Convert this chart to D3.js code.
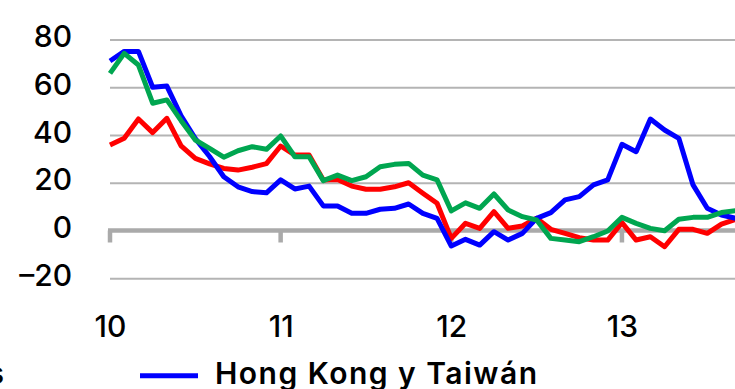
<!DOCTYPE html>
<html>
  <head>
    <meta charset="utf-8" />
    <script src="https://d3js.org/d3.v7.min.js"></script>
    <style>
      body { margin: 0; background: #fff; }
      svg text { font-family: Inter, "Open Sans", sans-serif; fill: #000; }
      .grid line { stroke: #b4b4b4; stroke-width: 2px; }
      .grid path { display: none; }
      .ylab text, .xlab text { font-size: 30px; font-weight: 500; }
      .ylab path, .xlab path { display: none; }
      .series { fill: none; stroke-width: 5px; stroke-linejoin: round; }
    </style>
  </head>
  <body>

    <svg id="chart" width="735" height="389"></svg>

    <script>

      var svg = d3.select("#chart");

      // monthly, starting January 2010
      var hongKongTaiwan = [71, 75, 75, 60, 60.5, 48, 38.5, 31, 22.5, 18.3, 16.3, 15.8,
        21.2, 17.4, 18.6, 10.3, 10.3, 7.2, 7.2, 8.9, 9.3, 11.1, 7.2, 5.1,
        -6.5, -3.7, -6.1, -0.5, -4, -1.2, 5.1, 7.5, 12.8, 14.2, 19.1, 21.2,
        36.1, 33, 46.7, 42.1, 38.6, 19.1, 9.3, 6.5, 5.1];
      var redSeries = [35.8, 38.6, 46.7, 41, 47, 35.4, 30.2, 27.9, 26, 25.3, 26.5, 28,
        35.4, 31.6, 31.6, 21.2, 21.4, 18.6, 17.3, 17.3, 18.3, 20, 15.6, 11.4,
        -3.3, 3, 0.9, 7.9, 0.9, 1.9, 5.1, 0.5, -1.2, -3, -4, -4,
        3.3, -4, -2.6, -6.8, 0.5, 0.5, -1.2, 2.7, 4.7];
      var greenSeries = [65.8, 74.2, 69.3, 53.3, 54.7, 46, 37.9, 34.4, 30.7, 33.4, 35.1, 34,
        39.6, 30.9, 30.9, 20.9, 23.2, 20.9, 22.5, 26.7, 27.7, 28.1, 23.2, 21.2,
        8.2, 11.6, 9.3, 15.3, 8.6, 5.8, 4.4, -3.3, -4, -4.7, -2.6, -0.2,
        5.5, 3, 0.9, -0.1, 4.7, 5.5, 5.5, 7.5, 8.3];

      var yTicks = [-20, 0, 20, 40, 60, 80];
      var yearTicks = [0, 12, 24, 36];
      var yearLabels = ["10", "11", "12", "13"];

      var x = d3.scaleLinear().domain([0, 44]).range([110, 735.7]);
      var y = d3.scaleLinear().domain([0, 80]).range([230.5, 39.5]);

      // horizontal gridlines
      svg.append("g")
        .attr("class", "grid")
        .attr("transform", "translate(110,0)")
        .call(d3.axisLeft(y).tickValues(yTicks.filter(function(d) { return d !== 0; }))
          .tickSize(-640).tickFormat(""));

      // y labels
      var yl = svg.append("g")
        .attr("class", "ylab")
        .attr("transform", "translate(110,0)")
        .call(d3.axisLeft(y).tickValues(yTicks).tickSize(0).tickPadding(38)
          .tickFormat(function(d) { return d < 0 ? "\u2013" + (-d) : d; }));
      yl.selectAll("text").attr("dy", "0.24em");

      // zero line with year ticks
      svg.append("line")
        .attr("x1", 108).attr("x2", 735)
        .attr("y1", y(0)).attr("y2", y(0))
        .attr("stroke", "#aaaaaa").attr("stroke-width", 4.5);

      svg.selectAll(".ytick")
        .data(yearTicks)
        .enter().append("line")
        .attr("x1", function(d) { return x(d); })
        .attr("x2", function(d) { return x(d); })
        .attr("y1", y(0))
        .attr("y2", y(0) + 12)
        .attr("stroke", "#aaaaaa").attr("stroke-width", 4.5);

      // x labels
      svg.append("g")
        .attr("class", "xlab")
        .attr("transform", "translate(0,338)")
        .call(d3.axisBottom(x).tickValues(yearTicks).tickSize(0).tickPadding(0)
          .tickFormat(function(d, i) { return yearLabels[i]; }))
        .selectAll("text").attr("dy", "-0.05em").attr("y", 0);

      var line = d3.line()
        .x(function(d, i) { return x(i); })
        .y(function(d) { return y(d); });

      var plot = svg.append("g");
      plot.append("path").attr("class", "series").attr("stroke", "#ff0000")
        .attr("d", line(redSeries));
      plot.append("path").attr("class", "series").attr("stroke", "#0000ff")
        .attr("d", line(hongKongTaiwan));
      plot.append("path").attr("class", "series").attr("stroke", "#00a650")
        .attr("d", line(greenSeries));

      // legend
      svg.append("text")
        .attr("x", 4).attr("y", 384)
        .attr("text-anchor", "end")
        .attr("font-size", 30).attr("font-weight", 600)
        .text("Otras economías");

      svg.append("line")
        .attr("x1", 140).attr("x2", 198)
        .attr("y1", 375.7).attr("y2", 375.7)
        .attr("stroke", "#0000ff").attr("stroke-width", 5);

      svg.append("text")
        .attr("x", 215).attr("y", 384)
        .attr("font-size", 30).attr("font-weight", 600)
        .attr("textLength", 322).attr("lengthAdjust", "spacing")
        .text("Hong Kong y Taiwán");

    </script>

  </body>
</html>
